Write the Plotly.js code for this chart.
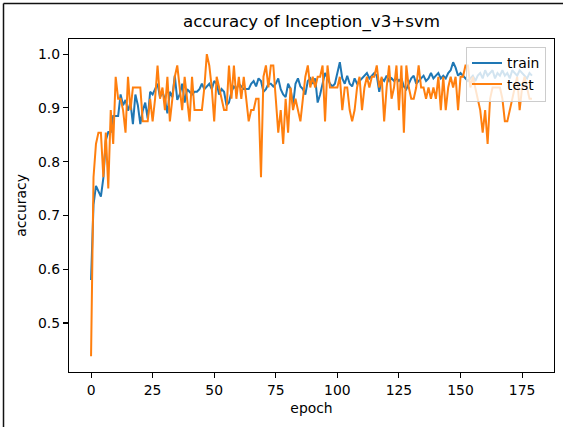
<!DOCTYPE html>
<html>
<head>
<meta charset="utf-8">
<script src="https://cdn.plot.ly/plotly-3.0.1.min.js"></script>
<style>
  html, body { margin: 0; padding: 0; background: #ffffff; }
  #chart { width: 563px; height: 427px; }
</style>
</head>
<body>
<div id="chart"></div>
<script>
const trainAcc = [
  0.58, 0.72, 0.755, 0.745, 0.735, 0.77, 0.84, 0.855, 0.855, 0.885,
  0.885, 0.885, 0.925, 0.905, 0.915, 0.895, 0.91, 0.87, 0.925, 0.905,
  0.87, 0.895, 0.91, 0.88, 0.93, 0.925, 0.935, 0.945, 0.92, 0.93,
  0.915, 0.89, 0.93, 0.92, 0.96, 0.915, 0.925, 0.945, 0.91, 0.935,
  0.93, 0.925, 0.93, 0.93, 0.935, 0.945, 0.935, 0.94, 0.945, 0.935,
  0.95, 0.945, 0.925, 0.935, 0.93, 0.905, 0.91, 0.93, 0.94, 0.935,
  0.945, 0.94, 0.935, 0.935, 0.935, 0.945, 0.95, 0.94, 0.955, 0.95,
  0.93, 0.935, 0.945, 0.945, 0.94, 0.945, 0.955, 0.935, 0.925, 0.92,
  0.945, 0.935, 0.905, 0.945, 0.955, 0.94, 0.935, 0.925, 0.95, 0.955,
  0.945, 0.955, 0.91, 0.925, 0.945, 0.965, 0.955, 0.945, 0.94, 0.945,
  0.965, 0.985, 0.955, 0.945, 0.96, 0.945, 0.94, 0.955, 0.945, 0.95,
  0.955, 0.96, 0.965, 0.955, 0.96, 0.965, 0.96, 0.93, 0.955, 0.95,
  0.96, 0.95, 0.955, 0.95, 0.955, 0.95, 0.955, 0.94, 0.935, 0.945,
  0.955, 0.96, 0.945, 0.95, 0.955, 0.96, 0.95, 0.955, 0.965, 0.955,
  0.96, 0.965, 0.955, 0.96, 0.955, 0.965, 0.97, 0.985, 0.975, 0.96,
  0.965, 0.96, 0.955, 0.95, 0.955, 0.96, 0.95, 0.96, 0.965, 0.955,
  0.97, 0.96, 0.965, 0.97, 0.955, 0.965, 0.96, 0.97, 0.96, 0.965,
  0.955, 0.97, 0.965, 0.96, 0.97, 0.965, 0.96, 0.955, 0.965, 0.96
];
const testAcc = [
  0.438, 0.771, 0.833, 0.854, 0.854, 0.771, 0.854, 0.750, 0.896, 0.833,
  0.958, 0.917, 0.917, 0.896, 0.854, 0.958, 0.896, 0.938, 0.938, 0.938,
  0.938, 0.875, 0.875, 0.875, 0.917, 0.875, 0.917, 0.979, 0.917, 0.938,
  0.896, 0.958, 0.875, 0.917, 0.958, 0.979, 0.938, 0.896, 0.958, 0.917,
  0.875, 0.958, 0.896, 0.896, 0.896, 0.896, 0.938, 1.000, 0.979, 0.938,
  0.875, 0.958, 0.938, 0.917, 0.896, 0.896, 0.979, 0.917, 0.979, 0.917,
  0.958, 0.917, 0.958, 0.917, 0.875, 0.896, 0.896, 0.917, 0.917, 0.771,
  0.958, 0.979, 0.938, 0.979, 0.979, 0.917, 0.854, 0.896, 0.833, 0.917,
  0.854, 0.938, 0.896, 0.917, 0.896, 0.875, 0.917, 0.958, 0.979, 0.938,
  0.958, 0.938, 0.958, 0.958, 0.979, 0.875, 0.979, 0.938, 0.938, 0.938,
  0.938, 0.958, 0.896, 0.938, 0.938, 0.896, 0.875, 0.896, 0.938, 0.958,
  0.896, 0.938, 0.958, 0.938, 0.958, 0.958, 0.979, 0.938, 0.958, 0.875,
  0.938, 0.979, 0.917, 0.938, 0.979, 0.896, 0.979, 0.854, 0.979, 0.938,
  0.917, 0.917, 0.938, 0.979, 0.938, 0.938, 0.917, 0.938, 0.917, 0.938,
  0.917, 0.958, 0.896, 0.958, 0.896, 0.938, 0.958, 0.938, 0.958, 0.896,
  0.958, 0.958, 0.979, 0.979, 0.938, 0.958, 0.938, 0.917, 0.896, 0.854,
  0.896, 0.833, 0.917, 0.938, 0.938, 0.938, 0.938, 0.917, 0.875, 0.875,
  0.896, 0.917, 0.938, 0.958, 0.896, 0.938, 0.958, 0.938, 0.917, 0.917
];
const epochs = trainAcc.map((_, i) => i);
const xTicks = [0, 25, 50, 75, 100, 125, 150, 175];
const yTicks = [0.5, 0.6, 0.7, 0.8, 0.9, 1.0];
const seriesNames = ['train', 'test'];

const font = 'DejaVu Sans, sans-serif';
const L = 69, R = 554, T = 39, B = 372, W = 563, H = 427;
const px = v => (v - L) / (R - L);
const py = v => (B - v) / (B - T);

const traces = [
  { x: epochs, y: trainAcc, name: seriesNames[0], type: 'scatter', mode: 'lines',
    line: { color: '#1f77b4', width: 2 } },
  { x: epochs, y: testAcc, name: seriesNames[1], type: 'scatter', mode: 'lines',
    line: { color: '#ff7f0e', width: 2 } }
];

const axisCommon = {
  showgrid: false, zeroline: false, showline: true, mirror: true,
  linecolor: '#000000', linewidth: 1.1,
  ticks: 'outside', ticklen: 5, tickwidth: 1.1, tickcolor: '#000000',
  tickfont: { family: font, size: 13.9, color: '#000000' }
};

const layout = {
  width: W, height: H,
  margin: { l: L, r: W - R, t: T, b: H - B, pad: 0 },
  paper_bgcolor: '#ffffff', plot_bgcolor: '#ffffff',
  title: { text: 'accuracy of Inception_v3+svm', font: { family: font, size: 16.7, color: '#000000' },
           x: 0.5, xref: 'paper', xanchor: 'center', y: 1 - 21 / H, yanchor: 'middle' },
  xaxis: Object.assign({}, axisCommon, {
    range: [-8.95, 187.95], tickvals: xTicks, ticktext: xTicks.map(String),
    title: { text: 'epoch', font: { family: font, size: 13.9, color: '#000000' }, standoff: 6 }
  }),
  yaxis: Object.assign({}, axisCommon, {
    range: [0.4088, 1.0282], tickvals: yTicks, ticktext: yTicks.map(v => v.toFixed(1)),
    title: { text: 'accuracy', font: { family: font, size: 13.9, color: '#000000' }, standoff: 8 }
  }),
  showlegend: true,
  legend: {
    x: px(546), y: py(46.5), xanchor: 'right', yanchor: 'top',
    bgcolor: 'rgba(255,255,255,0.8)', bordercolor: '#cccccc', borderwidth: 1,
    font: { family: font, size: 13.9, color: '#000000' },
    tracegroupgap: 0, itemwidth: 30
  },
  shapes: [
    { type: 'line', xref: 'paper', yref: 'paper', x0: px(3.5), x1: px(563), y0: py(3.5), y1: py(3.5),
      line: { color: '#111111', width: 1.5 } },
    { type: 'line', xref: 'paper', yref: 'paper', x0: px(3.5), x1: px(3.5), y0: py(3.5), y1: py(427),
      line: { color: '#111111', width: 1.5 } }
  ]
};

Plotly.newPlot('chart', traces, layout, { displayModeBar: false, staticPlot: true });
</script>
</body>
</html>
